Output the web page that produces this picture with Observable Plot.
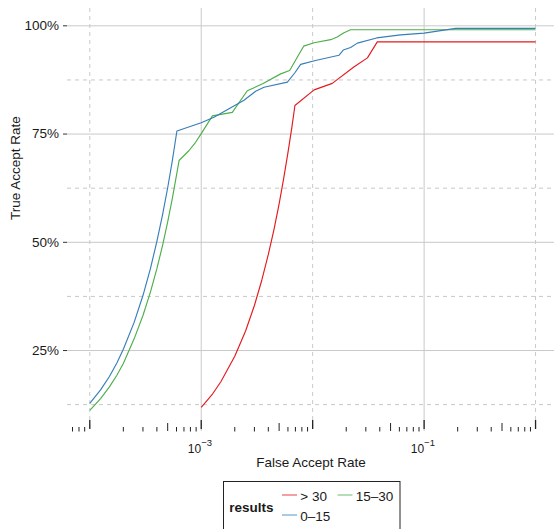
<!DOCTYPE html>
<html>
<head>
<meta charset="utf-8">
<script src="https://cdn.jsdelivr.net/npm/d3@7"></script>
<script src="https://cdn.jsdelivr.net/npm/@observablehq/plot@0.6"></script>
<style>
  html, body { margin: 0; padding: 0; background: #ffffff; }
  body { font-family: "Liberation Sans", Arial, Helvetica, sans-serif; width: 554px; height: 529px; overflow: hidden; }
  #chart svg, #legend svg { display: block; }
</style>
</head>
<body>
<div id="chart"></div>
<div id="legend"></div>
<script>
// ---------- data ----------
const seriesNames = ["> 30", "15–30", "0–15"];
const seriesColors = ["#e41a1c", "#4daf4a", "#377eb8"];
const legendTitle = "results";

const farOver30 = [1.0e-3, 1.25e-3, 1.5e-3, 2.0e-3, 2.5e-3, 3.0e-3, 3.5e-3, 4.0e-3, 4.5e-3, 5.0e-3, 5.5e-3, 6.0e-3, 6.5e-3, 6.93e-3, 1.03e-2, 1.5e-2, 2.34e-2, 3.1e-2, 3.8e-2, 1.0];
const tarOver30 = [0.119, 0.148, 0.178, 0.237, 0.295, 0.354, 0.413, 0.472, 0.530, 0.589, 0.648, 0.707, 0.765, 0.816, 0.852, 0.867, 0.905, 0.926, 0.963, 0.963];

const far15to30 = [1.0e-4, 1.25e-4, 1.5e-4, 1.75e-4, 2.0e-4, 2.5e-4, 3.0e-4, 3.5e-4, 4.0e-4, 4.5e-4, 5.0e-4, 5.5e-4, 6.0e-4, 6.33e-4, 7.78e-4, 8.9e-4, 1.0e-3, 1.26e-3, 1.90e-3, 2.59e-3, 3.56e-3, 5.16e-3, 6.22e-3, 7.04e-3, 8.30e-3, 1.03e-2, 1.45e-2, 1.66e-2, 1.91e-2, 2.19e-2, 1.0];
const tar15to30 = [0.112, 0.139, 0.166, 0.193, 0.220, 0.277, 0.331, 0.385, 0.439, 0.493, 0.547, 0.601, 0.655, 0.689, 0.712, 0.731, 0.751, 0.792, 0.800, 0.850, 0.866, 0.889, 0.897, 0.921, 0.953, 0.961, 0.968, 0.974, 0.984, 0.991, 0.991];

const far0to15 = [1.0e-4, 1.25e-4, 1.5e-4, 1.75e-4, 2.0e-4, 2.5e-4, 3.0e-4, 3.5e-4, 4.0e-4, 4.5e-4, 5.0e-4, 5.5e-4, 6.05e-4, 1.0e-3, 1.30e-3, 1.84e-3, 2.42e-3, 3.08e-3, 3.66e-3, 5.93e-3, 6.90e-3, 7.80e-3, 1.06e-2, 1.72e-2, 1.88e-2, 2.19e-2, 2.52e-2, 3.75e-2, 6.15e-2, 0.10, 0.192, 1.0];
const tar0to15 = [0.128, 0.159, 0.190, 0.221, 0.253, 0.315, 0.377, 0.439, 0.502, 0.564, 0.626, 0.688, 0.757, 0.776, 0.789, 0.811, 0.828, 0.849, 0.858, 0.870, 0.891, 0.911, 0.920, 0.932, 0.944, 0.950, 0.960, 0.972, 0.979, 0.983, 0.994, 0.994];

const yMajorTicks = [0.25, 0.5, 0.75, 1.0];
const yMinorTicks = [0.125, 0.375, 0.625, 0.875];
const xMajorTicks = [1e-3, 1e-1];
const xMajorExponents = ["−3", "−1"];
const xMinorTicks = [1e-4, 1e-2, 1];
const logDecades = [-5, -4, -3, -2, -1, 0];
const logMultipliers = [1, 2, 3, 4, 5, 6, 7, 8, 9];

const xTitle = "False Accept Rate";
const yTitle = "True Accept Rate";

// ---------- layout ----------
const W = 554, H = 480;
const mL = 67, mR = 0, mT = 8, mB = 49;
const xDomain = [Math.pow(10, -4.2), Math.pow(10, 0.17)];
const yDomain = [0.063, 1.04];
const pxPerY = (H - mT - mB) / (yDomain[1] - yDomain[0]);
const grid = "#c9c9c9";
const ink = "#1a1a1a";

const rows = [
  ...farOver30.map((f, i) => ({series: seriesNames[0], far: f, tar: tarOver30[i]})),
  ...far15to30.map((f, i) => ({series: seriesNames[1], far: f, tar: tar15to30[i]})),
  ...far0to15.map((f, i) => ({series: seriesNames[2], far: f, tar: tar0to15[i]}))
];

const logTicks = [];
for (const d of logDecades) for (const m of logMultipliers) {
  const v = m * Math.pow(10, d);
  if (v >= xDomain[0] && v <= xDomain[1]) logTicks.push({v, kind: m === 1 ? "long" : m === 5 ? "mid" : "short"});
}
const tickLen = {long: [-2, 11], mid: [0, 8], short: [0.5, 4]};

const yb = yDomain[0];

const chart = Plot.plot({
  width: W, height: H,
  marginLeft: mL, marginRight: mR, marginTop: mT, marginBottom: mB,
  style: {fontFamily: '"Liberation Sans", Arial, Helvetica, sans-serif', fontSize: "13.5px", color: ink, background: "#ffffff", overflow: "visible"},
  x: {type: "log", domain: xDomain, axis: null},
  y: {domain: yDomain, axis: null},
  color: {domain: seriesNames, range: seriesColors},
  marks: [
    Plot.ruleY(yMinorTicks, {stroke: grid, strokeWidth: 1, strokeDasharray: "4,4"}),
    Plot.ruleX(xMinorTicks, {stroke: grid, strokeWidth: 1, strokeDasharray: "4,4"}),
    Plot.ruleY(yMajorTicks, {stroke: grid, strokeWidth: 1}),
    Plot.ruleX(xMajorTicks, {stroke: grid, strokeWidth: 1}),
    Plot.ruleX(logTicks, {
      x: "v",
      y1: d => yb - tickLen[d.kind][0] / pxPerY,
      y2: d => yb + tickLen[d.kind][1] / pxPerY,
      stroke: "#222", strokeWidth: d => d.kind === "long" ? 1.3 : 1
    }),
    Plot.line(rows, {x: "far", y: "tar", z: "series", stroke: "series", strokeWidth: 1.15, strokeLinejoin: "round", strokeLinecap: "butt"}),
    Plot.axisY({ticks: yMajorTicks, tickFormat: d3.format(".0%"), tickSize: 4, tickPadding: 4.5, stroke: "#333", fill: ink, fontSize: 13.5, label: null}),
    Plot.text(xMajorTicks, {x: d => d, y: yb, text: () => "10", textAnchor: "end", lineAnchor: "bottom", dy: 21, fontSize: 12, fill: ink}),
    Plot.text(xMajorTicks, {x: d => d, y: yb, text: (d, i) => xMajorExponents[i], textAnchor: "start", lineAnchor: "bottom", dy: 14, fontSize: 9.5, fill: ink}),
    Plot.text([xTitle], {frameAnchor: "bottom", text: d => d, lineAnchor: "bottom", dy: 35, fontSize: 13.5, fill: ink}),
    Plot.text([yTitle], {frameAnchor: "left", text: d => d, rotate: -90, dx: -52, fontSize: 13.5, fill: ink})
  ]
});
document.getElementById("chart").appendChild(chart);

// ---------- legend (below the plot) ----------
const lg = d3.select("#legend").append("svg")
  .attr("width", W).attr("height", 49)
  .style("font-family", '"Liberation Sans", Arial, Helvetica, sans-serif');
lg.append("rect").attr("x", 223.5).attr("y", 1.5).attr("width", 176.5).attr("height", 80)
  .attr("fill", "#ffffff").attr("stroke", "#222").attr("stroke-width", 1);
lg.append("text").attr("x", 229.3).attr("y", 31.5).attr("font-size", 13.5).attr("font-weight", "bold")
  .attr("fill", ink).text(legendTitle);
seriesNames.forEach((name, i) => {
  const col = i % 2, row = Math.floor(i / 2);
  const kx = 282 + col * 55.5, ky = 15 + row * 20;
  lg.append("line").attr("x1", kx).attr("x2", kx + 15).attr("y1", ky).attr("y2", ky)
    .attr("stroke", seriesColors[i]).attr("stroke-width", 1.1).attr("stroke-opacity", 0.75);
  lg.append("text").attr("x", kx + 18.3).attr("y", ky + 6).attr("font-size", 13.5)
    .attr("fill", ink).text(name);
});
</script>
</body>
</html>
